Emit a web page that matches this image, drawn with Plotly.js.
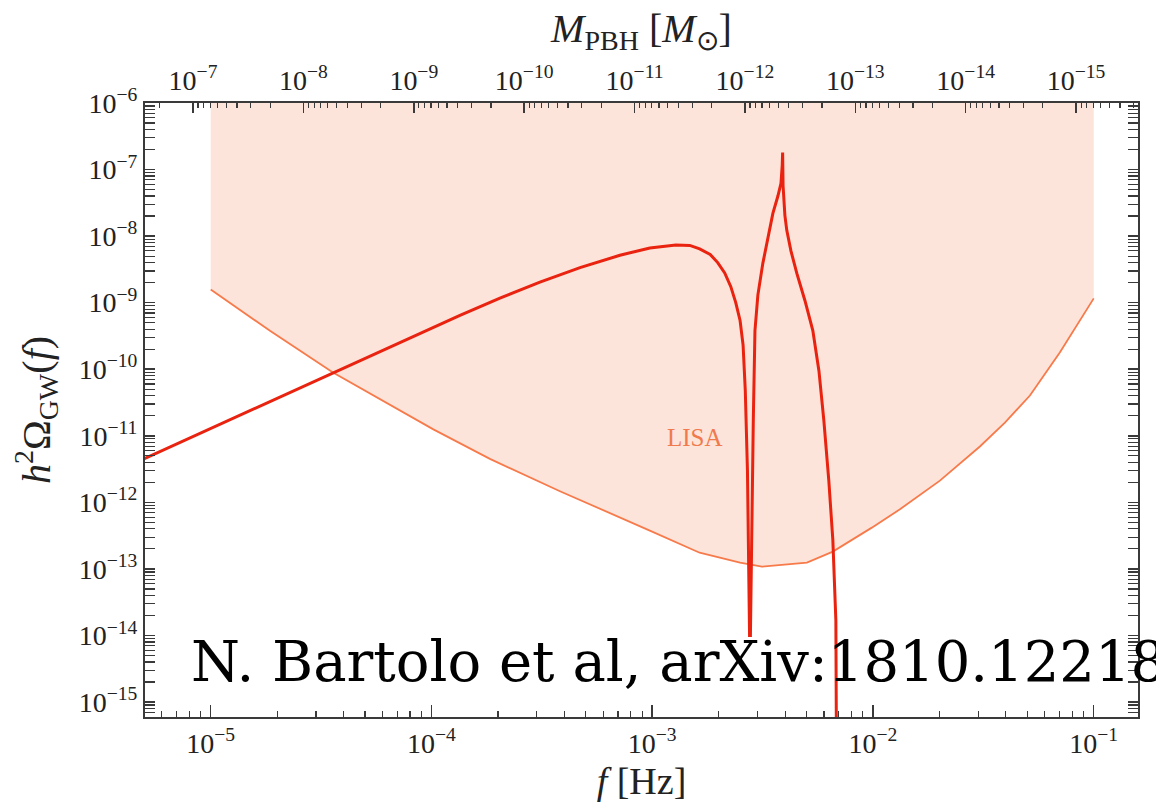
<!DOCTYPE html>
<html>
<head>
<meta charset="utf-8">
<script src="https://cdn.plot.ly/plotly-3.0.1.min.js"></script>
<style>
  html, body { margin: 0; padding: 0; background: #ffffff; }
  #chart { width: 1156px; height: 810px; }
</style>
</head>
<body>
<div id="chart"></div>
<script>
// LISA power-law sensitivity curve, h^2 Omega_GW versus frequency [Hz]
const lisaFreq = [1e-5, 1.856e-5, 3.58e-5, 6.68e-5, 1.02e-4, 1.84e-4, 3.82e-4, 9.87e-4, 1.64e-3, 2.50e-3, 3.14e-3,
                  5.02e-3, 6.58e-3, 9.88e-3, 1.32e-2, 2.01e-2, 3.05e-2, 3.96e-2, 5.14e-2, 7.02e-2, 8.65e-2, 1e-1];
const lisaOmega = [1.58e-9, 3.78e-10, 8.9e-11, 2.73e-11, 1.25e-11, 4.5e-12, 1.47e-12, 3.7e-13, 1.75e-13, 1.24e-13, 1.08e-13,
                   1.24e-13, 1.82e-13, 4.17e-13, 7.8e-13, 2.12e-12, 6.9e-12, 1.58e-11, 4.03e-11, 1.78e-10, 5.4e-10, 1.16e-9];
// upper edge of the shaded LISA band
const lisaBandTop = 1e-6;

// induced GW spectrum from the PBH-forming curvature peak
const gwFreq = [5.0e-6, 1e-5, 2.06e-5, 3.58e-5, 5.85e-5, 8.87e-5, 1.346e-4, 2.043e-4, 3.10e-4, 4.71e-4, 7.14e-4, 9.76e-4, 1.28e-3,
                1.48e-3, 1.64e-3, 1.83e-3, 1.98e-3, 2.13e-3, 2.27e-3, 2.39e-3, 2.50e-3, 2.58e-3, 2.64e-3, 2.70e-3, 2.74e-3, 2.76e-3,
                2.785e-3, 2.83e-3, 2.87e-3, 2.92e-3, 3.01e-3, 3.17e-3, 3.34e-3, 3.52e-3, 3.71e-3, 3.83e-3, 3.88e-3, 3.897e-3,
                3.915e-3, 3.99e-3, 4.07e-3, 4.25e-3, 4.52e-3, 4.92e-3, 5.34e-3, 5.69e-3, 5.99e-3, 6.31e-3, 6.58e-3, 6.79e-3, 6.86e-3];
const gwOmega = [4.54e-12, 1.29e-11, 3.76e-11, 8.8e-11, 1.85e-10, 3.48e-10, 6.46e-10, 1.173e-9, 2.04e-9, 3.36e-9, 5.16e-9, 6.62e-9, 7.37e-9,
                 7.25e-9, 6.42e-9, 5.31e-9, 4.0e-9, 2.8e-9, 1.74e-9, 1.0e-9, 5.4e-10, 2.3e-10, 4.8e-11, 3e-12, 1.3e-13, 1e-14,
                 1e-14, 1.07e-12, 1.7e-11, 3.8e-10, 1.3e-9, 3.9e-9, 9.5e-9, 2.2e-8, 4.0e-8, 6.2e-8, 1.15e-7, 1.8e-7,
                 5.7e-8, 2.05e-8, 1.22e-8, 6.0e-9, 2.75e-9, 1.07e-9, 3.8e-10, 9.5e-11, 1.7e-11, 2.1e-12, 2.7e-13, 1.7e-14, 1e-17];

// tick values
const freqTicks = [1e-5, 1e-4, 1e-3, 1e-2, 1e-1];
const freqTickText = ['10<sup>−5</sup>', '10<sup>−4</sup>', '10<sup>−3</sup>', '10<sup>−2</sup>', '10<sup>−1</sup>'];
const omegaTicks = [1e-6, 1e-7, 1e-8, 1e-9, 1e-10, 1e-11, 1e-12, 1e-13, 1e-14, 1e-15];
const omegaTickText = ['10<sup>−6</sup>', '10<sup>−7</sup>', '10<sup>−8</sup>', '10<sup>−9</sup>', '10<sup>−10</sup>',
                       '10<sup>−11</sup>', '10<sup>−12</sup>', '10<sup>−13</sup>', '10<sup>−14</sup>', '10<sup>−15</sup>'];
const massTicks = [1e-7, 1e-8, 1e-9, 1e-10, 1e-11, 1e-12, 1e-13, 1e-14, 1e-15];
const massTickText = ['10<sup>−7</sup>', '10<sup>−8</sup>', '10<sup>−9</sup>', '10<sup>−10</sup>', '10<sup>−11</sup>',
                      '10<sup>−12</sup>', '10<sup>−13</sup>', '10<sup>−14</sup>', '10<sup>−15</sup>'];

// minor ticks at 2..9 x 10^n for a span of decades
function minorTicks(lo, hi) {
  const v = [];
  for (let e = lo; e <= hi; e++) {
    for (let m = 2; m <= 9; m++) v.push(m * Math.pow(10, e));
  }
  return v;
}

// frequency axis range (log10) and the mass axis matched to it: M ~ f^-2
const fRange = [-5.2976, -0.7995];
const massAtRef = -7, freqAtRef = -5.08;
const mRange = fRange.map(lf => massAtRef - 2 * (lf - freqAtRef));

const serif = 'Liberation Serif, Times New Roman, serif';
const axisColor = '#3a3a3a';
const textColor = '#222222';

const traces = [
  { x: [lisaFreq[0], lisaFreq[lisaFreq.length - 1]], y: [lisaBandTop, lisaBandTop],
    mode: 'lines', line: { width: 0, color: 'rgba(0,0,0,0)' }, hoverinfo: 'skip', showlegend: false },
  { x: lisaFreq, y: lisaOmega, mode: 'lines', fill: 'tonexty', fillcolor: '#fde4da',
    line: { color: '#f77a4b', width: 1.8 }, showlegend: false },
  { x: gwFreq, y: gwOmega, mode: 'lines', line: { color: '#e9230f', width: 3 }, showlegend: false },
  { x: [], y: [], xaxis: 'x2', yaxis: 'y', showlegend: false }
];

const layout = {
  width: 1156, height: 810,
  margin: { l: 145, r: 18, t: 103, b: 93, pad: 0 },
  paper_bgcolor: '#ffffff', plot_bgcolor: '#ffffff',
  font: { family: serif, color: textColor },
  showlegend: false,
  xaxis: {
    type: 'log', range: fRange,
    tickmode: 'array', tickvals: freqTicks, ticktext: freqTickText,
    ticks: 'inside', ticklen: 12, tickwidth: 1.5, tickcolor: axisColor,
    minor: { tickmode: 'array', tickvals: minorTicks(-6, -1), ticks: 'inside', ticklen: 6, tickwidth: 1.2, tickcolor: axisColor, showgrid: false },
    showline: true, linecolor: axisColor, linewidth: 2, mirror: true,
    showgrid: false, zeroline: false,
    tickfont: { family: serif, size: 28, color: textColor },
    title: { text: '<i>f</i> [Hz]', font: { family: serif, size: 38, color: textColor }, standoff: 10 }
  },
  xaxis2: {
    type: 'log', range: mRange, overlaying: 'x', side: 'top', anchor: 'y',
    tickmode: 'array', tickvals: massTicks, ticktext: massTickText,
    ticks: 'inside', ticklen: 10, tickwidth: 1.5, tickcolor: axisColor,
    minor: { tickmode: 'array', tickvals: minorTicks(-16, -7), ticks: 'inside', ticklen: 5, tickwidth: 1.2, tickcolor: axisColor, showgrid: false },
    showline: true, linecolor: axisColor, linewidth: 2,
    showgrid: false, zeroline: false,
    tickfont: { family: serif, size: 28, color: textColor },
    title: { text: '<i>M</i><sub>PBH</sub> [<i>M</i><sub>⊙</sub>]', font: { family: serif, size: 40, color: textColor }, standoff: 6 }
  },
  yaxis: {
    type: 'log', range: [-15.225, -6],
    tickmode: 'array', tickvals: omegaTicks, ticktext: omegaTickText,
    ticks: 'inside', ticklen: 10, tickwidth: 1.5, tickcolor: axisColor,
    minor: { tickmode: 'array', tickvals: minorTicks(-16, -7), ticks: 'inside', ticklen: 5, tickwidth: 1.2, tickcolor: axisColor, showgrid: false },
    showline: true, linecolor: axisColor, linewidth: 2, mirror: 'allticks',
    showgrid: false, zeroline: false,
    tickfont: { family: serif, size: 28, color: textColor },
    title: { text: '<i>h</i><sup>2</sup>Ω<sub>GW</sub>(<i>f</i>)', font: { family: serif, size: 40, color: textColor }, standoff: 16 }
  },
  annotations: [
    { text: 'LISA', xref: 'x', yref: 'y', x: Math.log10(1.56e-3), y: -11.03,
      showarrow: false, font: { family: serif, size: 25, color: '#f07a4c' } },
    { text: 'N. Bartolo et al, arXiv:1810.12218', xref: 'paper', yref: 'paper', x: 0.0445, y: 0.091,
      xanchor: 'left', yanchor: 'middle', showarrow: false,
      font: { family: 'DejaVu Serif, serif', size: 56, color: '#000000' } }
  ]
};

Plotly.newPlot('chart', traces, layout, { displayModeBar: false, staticPlot: true });
</script>
</body>
</html>
